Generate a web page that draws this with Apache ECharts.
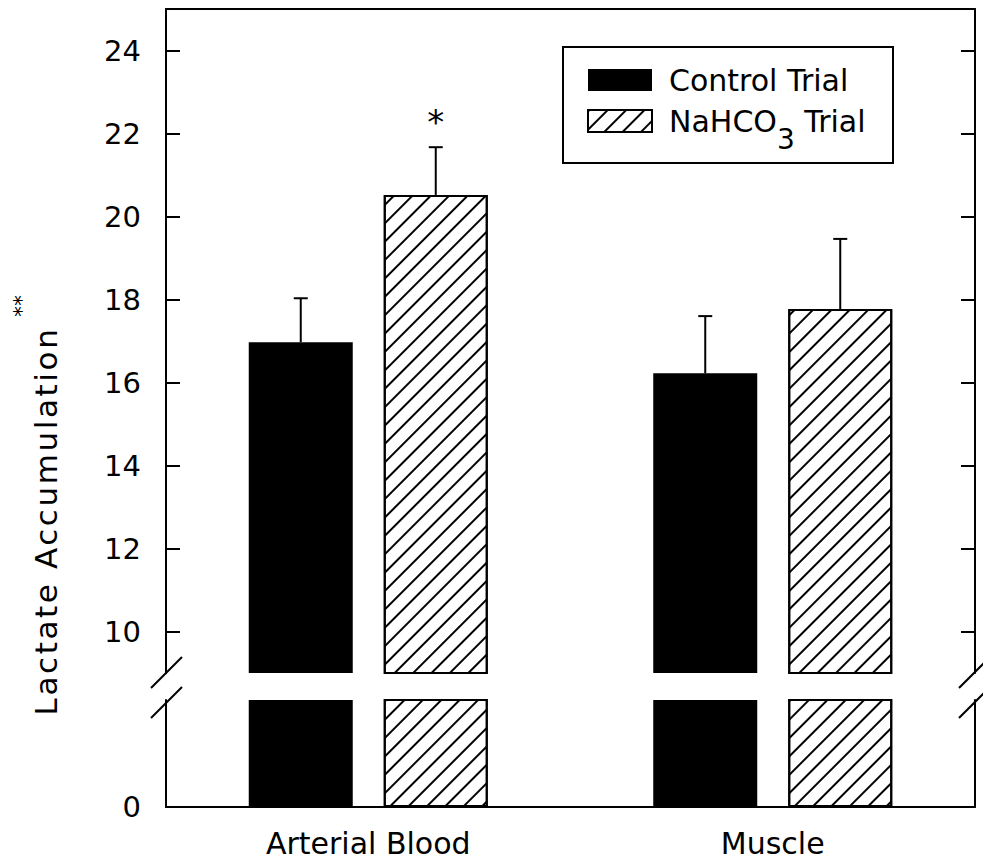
<!DOCTYPE html>
<html>
<head>
<meta charset="utf-8">
<script src="https://cdn.jsdelivr.net/npm/echarts@6/dist/echarts.min.js"></script>
<style>
  html, body { margin: 0; padding: 0; background: #fff; }
  #chart { width: 983px; height: 863px; }
  /* the rotated axis title is set in a wider tracking */
  #chart text[style*="31px"] { letter-spacing: 2.6px; }
</style>
</head>
<body>
<div id="chart"></div>
<script>
// Lactate accumulation, control vs. NaHCO3 trial (mean + SEM)
const categories = ['Arterial Blood', 'Muscle'];
const controlMean = [16.97, 16.22];
const controlSem = [1.06, 1.38];
const nahco3Mean = [20.52, 17.77];
const nahco3Sem = [1.15, 1.69];
const nahco3Sig = ['*', ''];
const upperTicks = [10, 12, 14, 16, 18, 20, 22, 24];
const lowerTicks = [0];
const seriesNames = ['Control Trial', 'NaHCO3 Trial'];
const yTitle = 'Lactate Accumulation';

const FONT = 'DejaVu Sans';
const FS = 30;
const BAR_W = 104;
const BAR_GAP = 31;
const HALF_STEP = (BAR_W + BAR_GAP) / 2;
const INK = '#000';

const hatch = {
  symbol: 'rect', symbolSize: 1, color: INK, backgroundColor: '#fff',
  dashArrayX: [1, 0], dashArrayY: [1.6, 10.4], rotation: -Math.PI / 4
};

const chart = echarts.init(document.getElementById('chart'), null, { renderer: 'svg' });

const labelStyle = { fontFamily: FONT, fontSize: FS, color: INK };
const tickLabelStyle = { fontFamily: FONT, fontSize: 29, color: INK };
const lineStyle = { color: INK, width: 2 };

function errorSeries(means, sems, offset, marks) {
  return {
    type: 'custom', xAxisIndex: 0, yAxisIndex: 0, z: 5, silent: true,
    data: means.map((m, i) => [i, m, m + sems[i]]),
    renderItem(params, api) {
      const base = api.coord([api.value(0), api.value(1)]);
      const top = api.coord([api.value(0), api.value(2)]);
      const x = base[0] + offset;
      const children = [
        { type: 'line', shape: { x1: x, y1: base[1], x2: x, y2: top[1] }, style: { stroke: INK, lineWidth: 2 } },
        { type: 'line', shape: { x1: x - 7, y1: top[1], x2: x + 7, y2: top[1] }, style: { stroke: INK, lineWidth: 2 } }
      ];
      const mark = marks ? marks[params.dataIndex] : '';
      if (mark) {
        children.push({
          type: 'text',
          style: { text: mark, x: x, y: top[1] - 8, align: 'center', verticalAlign: 'bottom',
                   font: '34px "' + FONT + '"', fill: INK }
        });
      }
      return { type: 'group', children };
    }
  };
}

function barPair(gridIdx) {
  return [
    {
      name: seriesNames[0], type: 'bar', xAxisIndex: gridIdx, yAxisIndex: gridIdx * 2,
      data: controlMean, barWidth: BAR_W, barGap: (BAR_GAP / BAR_W * 100) + '%',
      itemStyle: { color: INK, borderColor: INK, borderWidth: 0 }, clip: true, silent: true
    },
    {
      name: seriesNames[1], type: 'bar', xAxisIndex: gridIdx, yAxisIndex: gridIdx * 2,
      data: nahco3Mean, barWidth: BAR_W, barGap: (BAR_GAP / BAR_W * 100) + '%',
      itemStyle: { color: '#fff', borderColor: INK, borderWidth: 2, decal: hatch }, clip: true, silent: true
    }
  ];
}

const tickStyle = { show: true, inside: true, length: 14, lineStyle, customValues: upperTicks };

const option = {
  animation: false,
  backgroundColor: '#fff',
  grid: [
    { left: 166, right: 8, top: 9, bottom: 190 },
    { left: 166, right: 8, top: 700, bottom: 56 }
  ],
  xAxis: [
    { gridIndex: 0, type: 'category', data: categories, position: 'top',
      axisLine: { show: true, onZero: false, lineStyle }, axisTick: { show: false }, axisLabel: { show: false } },
    { gridIndex: 1, type: 'category', data: categories, position: 'bottom',
      axisLine: { show: true, onZero: false, lineStyle }, axisTick: { show: false },
      axisLabel: Object.assign({ margin: 21 }, labelStyle) }
  ],
  yAxis: [
    { gridIndex: 0, type: 'value', min: 9, max: 25, position: 'left', splitLine: { show: false },
      axisLine: { show: true, lineStyle }, axisTick: tickStyle,
      axisLabel: Object.assign({ margin: 25, customValues: upperTicks }, tickLabelStyle) },
    { gridIndex: 0, type: 'value', min: 9, max: 25, position: 'right', splitLine: { show: false },
      axisLine: { show: true, lineStyle }, axisTick: tickStyle, axisLabel: { show: false } },
    { gridIndex: 1, type: 'value', min: 0, max: 3, position: 'left', splitLine: { show: false },
      axisLine: { show: true, lineStyle }, axisTick: { show: false },
      axisLabel: Object.assign({ margin: 25, customValues: lowerTicks }, tickLabelStyle) },
    { gridIndex: 1, type: 'value', min: 0, max: 3, position: 'right', splitLine: { show: false },
      axisLine: { show: true, lineStyle }, axisTick: { show: false }, axisLabel: { show: false } }
  ],
  legend: {
    data: seriesNames, orient: 'vertical', left: 582, top: 60,
    icon: 'rect', itemWidth: 64, itemHeight: 22, itemGap: 11,
    selectedMode: false,
    textStyle: {
      fontFamily: FONT, fontSize: FS, color: INK, padding: [0, 0, 0, 12],
      rich: {
        t: { fontFamily: FONT, fontSize: FS, color: INK },
        s: { fontFamily: FONT, fontSize: 28, color: INK, padding: [36, 0, 0, 0] }
      }
    },
    formatter: name => name === 'NaHCO3 Trial' ? '{t|NaHCO}{s|3}{t| Trial}' : '{t|' + name + '}'
  },
  graphic: [
    { type: 'rect', shape: { x: 563, y: 47, width: 330, height: 116 },
      style: { fill: 'none', stroke: INK, lineWidth: 2 }, silent: true, z: 1 },
    { type: 'text', x: 46, y: 521, rotation: Math.PI / 2,
      style: { text: yTitle, font: '31px "' + FONT + '"', fill: INK,
               align: 'center', verticalAlign: 'middle' } },
    { type: 'text', x: 21, y: 306, rotation: Math.PI / 2,
      style: { text: '**', font: '22px "' + FONT + '"', fill: INK,
               align: 'center', verticalAlign: 'middle' } },
    // axis-break slashes
    { type: 'line', shape: { x1: 151, y1: 688, x2: 182, y2: 657 }, style: { stroke: INK, lineWidth: 2 } },
    { type: 'line', shape: { x1: 151, y1: 718, x2: 182, y2: 687 }, style: { stroke: INK, lineWidth: 2 } },
    { type: 'line', shape: { x1: 959, y1: 688, x2: 990, y2: 657 }, style: { stroke: INK, lineWidth: 2 } },
    { type: 'line', shape: { x1: 959, y1: 718, x2: 990, y2: 687 }, style: { stroke: INK, lineWidth: 2 } }
  ],
  series: [
    ...barPair(0),
    ...barPair(1),
    errorSeries(controlMean, controlSem, -HALF_STEP, null),
    errorSeries(nahco3Mean, nahco3Sem, HALF_STEP, nahco3Sig)
  ]
};

chart.setOption(option);
</script>
</body>
</html>
